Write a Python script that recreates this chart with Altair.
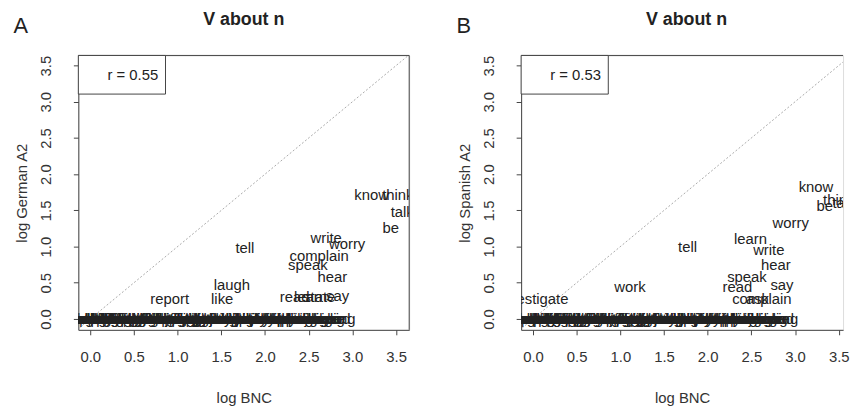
import altair as alt
import pandas as pd

FONT = "Liberation Sans"

# ---------------- Panel A : German A2 ----------------
a_words = ["tell", "write", "worry", "complain", "speak", "hear", "laugh", "report",
           "like", "read", "learn", "state", "say", "know", "think", "talk", "be"]
a_x = [1.77, 2.70, 2.94, 2.62, 2.49, 2.77, 1.62, 0.91,
       1.51, 2.34, 2.52, 2.62, 2.83, 3.22, 3.52, 3.57, 3.44]
a_y = [0.98, 1.12, 1.03, 0.875, 0.74, 0.575, 0.475, 0.28,
       0.27, 0.30, 0.30, 0.30, 0.31, 1.71, 1.71, 1.48, 1.25]

# words with no A2 occurrences (log = 0), drawn along the bottom
base_words = ["abandon", "accept", "act", "add", "admit", "advise", "allow", "announce",
              "answer", "apologise", "arrange", "bet", "blame", "boast", "bother", "care",
              "change", "check", "choose", "comment", "consult", "cry", "discover", "doubt",
              "dream", "explain", "fight", "find", "forget", "get", "go", "grumble",
              "guess", "hesitate", "inform", "joke", "judge", "lecture", "lie", "moan",
              "negotiate", "notify", "object", "protest", "publish", "quarrel", "remind", "remember",
              "reply", "smile", "study", "teach", "testify", "understand", "warn", "wonder",
              "enquire", "feel", "describe", "decide", "agree", "disagree", "argue", "sing",
              "appeal", "bargain", "brag", "campaign", "chat", "claim", "compete", "confess",
              "consider", "converse", "debate", "demonstrate", "deny", "despair", "disclose", "discuss",
              "exaggerate", "fantasise", "fret", "gossip", "hint", "hope", "imagine", "insist",
              "lament", "mention", "muse", "mutter", "narrate", "note", "obsess", "panic",
              "pray", "preach", "ramble", "rant", "reason", "reflect", "relate", "reminisce",
              "rave", "recount", "shout", "sob", "speculate", "stress", "swear", "theorise",
              "vote", "whisper", "yell", "bicker", "chatter", "wander", "design", "dig",
              "acknowledge", "advertise", "alert", "assert", "assume", "beg", "brief", "celebrate",
              "cheat", "concede", "confide", "contemplate", "curse", "deliberate", "disapprove", "dispute",
              "educate", "enthuse", "evaluate", "fuss", "grieve", "grin", "inquire", "instruct",
              "interview", "listen", "marvel", "moralise", "nag", "observe", "pester", "phone",
              "plead", "ponder", "question", "recall", "record", "remark", "respond", "rhyme",
              "scream", "sense", "signal", "sneer", "sulk", "tease", "tweet", "weep",
              "wink", "yawn", "caution", "counsel", "dither", "enthral", "gloat", "hum",
              "lobby", "meditate", "plot", "puzzle", "quibble", "rejoice", "sigh", "brood"]
a_base_x = [-0.08, -0.04, 0.0, 0.03, 0.06, 0.09, 0.12, 0.16,
            0.20, 0.24, 0.28, 0.33, 0.37, 0.42, 0.47, 0.52,
            0.57, 0.62, 0.67, 0.72, 0.77, 0.82, 0.87, 0.92,
            0.97, 1.02, 1.07, 1.12, 1.17, 1.22, 1.27, 1.32,
            1.37, 1.42, 1.47, 1.52, 1.57, 1.62, 1.67, 1.72,
            1.77, 1.82, 1.87, 1.92, 1.97, 2.02, 2.07, 2.12,
            2.17, 0.50, 0.05, 1.30, 0.90, 0.40, 1.75, 1.10,
            2.22, 2.27, 2.34, 2.44, 2.58, 2.52, 2.70, 2.88,
            -0.06, -0.02, 0.02, 0.05, 0.08, 0.11, 0.14, 0.18,
            0.22, 0.26, 0.31, 0.35, 0.40, 0.45, 0.49, 0.55,
            0.60, 0.65, 0.70, 0.75, 0.80, 0.85, 0.90, 0.95,
            1.00, 1.05, 1.10, 1.15, 1.20, 1.25, 1.35, 1.40,
            1.45, 1.50, 1.55, 1.60, 1.65, 1.70, 1.80, 1.85,
            1.90, 1.95, 2.00, 2.05, 2.10, 2.15, 2.20, 2.25,
            0.15, 0.30, 0.65, 0.85, 1.40, 2.40, 2.62, 2.80,
            -0.07, -0.03, 0.01, 0.04, 0.07, 0.10, 0.13, 0.17,
            0.21, 0.25, 0.29, 0.34, 0.38, 0.43, 0.48, 0.53,
            0.58, 0.63, 0.68, 0.73, 0.78, 0.83, 0.88, 0.93,
            0.98, 1.03, 1.08, 1.13, 1.18, 1.23, 1.28, 1.33,
            1.38, 1.43, 1.48, 1.53, 1.58, 1.63, 1.68, 1.73,
            1.78, 1.83, 1.88, 1.93, 1.98, 2.03, 2.08, 2.13,
            2.18, 2.23, 0.35, 0.55, 0.75, 1.15, 1.45, 1.60,
            1.85, 2.00, 2.30, 2.38, 2.48, 2.55, 2.65, 2.76]

# ---------------- Panel B : Spanish A2 ----------------
b_words = ["know", "think", "talk", "be", "worry", "learn", "write", "tell",
           "hear", "speak", "say", "read", "work", "complain", "ask", "investigate"]
b_x = [3.24, 3.50, 3.56, 3.34, 2.95, 2.49, 2.70, 1.77,
       2.78, 2.45, 2.85, 2.34, 1.11, 2.62, 2.57, 0.0]
b_y = [1.82, 1.64, 1.60, 1.56, 1.33, 1.10, 0.955, 0.99,
       0.74, 0.58, 0.47, 0.44, 0.44, 0.28, 0.28, 0.28]
b_base_x = [-0.10, -0.05, -0.01, 0.03, 0.07, 0.10, 0.14, 0.18,
            0.22, 0.26, 0.30, 0.35, 0.39, 0.44, 0.49, 0.54,
            0.59, 0.64, 0.69, 0.74, 0.79, 0.84, 0.89, 0.94,
            0.99, 1.04, 1.09, 1.14, 1.19, 1.24, 1.29, 1.34,
            1.39, 1.44, 1.49, 1.54, 1.59, 1.64, 1.69, 1.74,
            1.79, 1.84, 1.89, 1.94, 1.99, 2.04, 2.09, 2.14,
            2.19, 0.45, 0.08, 1.25, 0.95, 0.60, 1.70, 1.15,
            2.24, 2.30, 2.36, 2.46, 2.60, 2.54, 2.72, 2.88,
            -0.07, -0.03, 0.01, 0.05, 0.09, 0.12, 0.16, 0.20,
            0.24, 0.28, 0.33, 0.37, 0.42, 0.47, 0.51, 0.57,
            0.62, 0.67, 0.72, 0.77, 0.82, 0.87, 0.92, 0.97,
            1.02, 1.07, 1.12, 1.17, 1.22, 1.27, 1.37, 1.42,
            1.47, 1.52, 1.57, 1.62, 1.67, 1.72, 1.82, 1.87,
            1.92, 1.97, 2.02, 2.07, 2.12, 2.17, 2.22, 2.27,
            0.13, 0.32, 0.66, 0.86, 1.42, 2.40, 2.64, 2.80,
            -0.08, -0.04, 0.00, 0.04, 0.08, 0.11, 0.15, 0.19,
            0.23, 0.27, 0.31, 0.36, 0.40, 0.45, 0.50, 0.55,
            0.60, 0.65, 0.70, 0.75, 0.80, 0.85, 0.90, 0.95,
            1.00, 1.05, 1.10, 1.15, 1.20, 1.25, 1.30, 1.35,
            1.40, 1.45, 1.50, 1.55, 1.60, 1.65, 1.70, 1.75,
            1.80, 1.85, 1.90, 1.95, 2.00, 2.05, 2.10, 2.15,
            2.20, 2.26, 0.36, 0.56, 0.76, 1.16, 1.46, 1.61,
            1.86, 2.01, 2.32, 2.38, 2.50, 2.57, 2.67, 2.77]

ticks = [0.0, 0.5, 1.0, 1.5, 2.0, 2.5, 3.0, 3.5]
diag_v = [-0.3, 3.9]

H = 277
AXC = "#444"
TXT = "#222"


def panel(words, xs, ys, bx, ytitle, r_text, letter, width, xmax, right_edge, title_x):
    df = pd.DataFrame({
        "word": list(words) + base_words,
        "x": list(xs) + list(bx),
        "y": list(ys) + [0.0] * len(base_words),
    })
    diag = pd.DataFrame({"x": diag_v, "y": diag_v})
    one = pd.DataFrame({"k": [0]})

    xsc = alt.Scale(domain=[-0.136, xmax], nice=False, zero=False)
    ysc = alt.Scale(domain=[-0.15, 3.64], nice=False, zero=False)
    xax = alt.Axis(values=ticks, format=".1f", title="log BNC", grid=False,
                   tickSize=5, labelPadding=15, titlePadding=26,
                   domainColor=AXC, tickColor=AXC, labelColor="#333", titleColor="#333",
                   labelFont=FONT, titleFont=FONT, labelFontSize=15, titleFontSize=15,
                   titleFontWeight="normal", labelFlush=False)
    yax = alt.Axis(values=ticks, format=".1f", title=ytitle, grid=False,
                   tickSize=5, labelPadding=20, titlePadding=9,
                   labelAngle=-90, labelAlign="center", labelBaseline="bottom",
                   domainColor=AXC, tickColor=AXC, labelColor="#333", titleColor="#333",
                   labelFont=FONT, titleFont=FONT, labelFontSize=15, titleFontSize=15,
                   titleFontWeight="normal", labelFlush=False)

    X = alt.X("x:Q", scale=xsc, axis=xax)
    Y = alt.Y("y:Q", scale=ysc, axis=yax)

    line = alt.Chart(diag).mark_line(color="#aaa", strokeDash=[2, 2], strokeWidth=1,
                                     clip=True).encode(x=X, y=Y)
    text = alt.Chart(df).mark_text(font=FONT, fontSize=15, color=TXT,
                                   clip=True).encode(x=X, y=Y, text="word:N")
    top = alt.Chart(one).mark_rule(color=AXC, strokeWidth=1).encode(
        x=alt.value(0), x2=alt.value(width), y=alt.value(0))
    box = alt.Chart(one).mark_rect(fill="white", stroke=AXC, strokeWidth=1).encode(
        x=alt.value(0), x2=alt.value(88), y=alt.value(0), y2=alt.value(39))
    rtext = alt.Chart(one).mark_text(font=FONT, fontSize=15, color=TXT).encode(
        x=alt.value(55), y=alt.value(20), text=alt.value(r_text))
    let = alt.Chart(one).mark_text(font=FONT, fontSize=22, color=TXT).encode(
        x=alt.value(-58), y=alt.value(-30), text=alt.value(letter))
    ttl = alt.Chart(one).mark_text(font=FONT, fontSize=18, fontWeight="bold", color=TXT).encode(
        x=alt.value(title_x), y=alt.value(-36), text=alt.value("V about n"))

    layers = [line, text, top, box, rtext, let, ttl]
    if right_edge:
        layers.append(alt.Chart(one).mark_rule(color=AXC, strokeWidth=1).encode(
            x=alt.value(width), y=alt.value(0), y2=alt.value(H)))

    return alt.layer(*layers).properties(width=width, height=H)


pa = panel(a_words, a_x, a_y, a_base_x, "log German A2", "r = 0.55", "A",
           334, 3.65, True, 167)
pb = panel(b_words, b_x, b_y, b_base_x, "log Spanish A2", "r = 0.53", "B",
           325, 3.55, False, 167)

chart = alt.hconcat(pa, pb, spacing=113, bounds="flush").properties(
    padding={"left": 5, "top": 0, "right": 0, "bottom": 0}
).configure_view(stroke=None).configure(background="white")

chart.save("out.html", embed_options={"renderer": "svg", "actions": False})
